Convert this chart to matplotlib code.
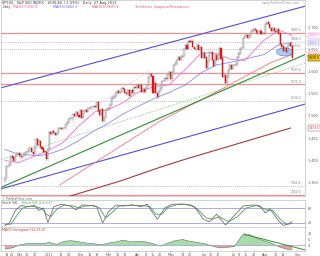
import numpy as np
import pandas as pd
import matplotlib
matplotlib.use("Agg")
import matplotlib.pyplot as plt
from matplotlib.patches import Ellipse

# daily closes, 16 Nov 2012 .. 27 Aug 2013
closes = [
    1359.88, 1386.89, 1387.81, 1391.03, 1409.15, 1406.29, 1398.94, 1409.93, 1415.95, 1416.18,
    1409.46, 1407.05, 1409.28, 1413.94, 1418.07, 1418.55, 1427.84, 1428.48, 1419.45, 1413.58,
    1430.36, 1446.79, 1435.81, 1443.69, 1430.15, 1426.66, 1419.83, 1418.10, 1402.43, 1426.19,
    1462.42, 1459.37, 1466.47, 1461.89, 1457.15, 1461.02, 1472.12, 1472.05, 1470.68, 1472.34,
    1472.63, 1480.94, 1485.98, 1492.56, 1494.81, 1494.82, 1502.96, 1500.18, 1507.84, 1501.96, 1498.11,
    1513.17, 1495.71, 1511.29, 1512.12, 1509.39, 1517.93, 1517.01, 1519.43, 1520.33, 1521.38,
    1519.79, 1530.94, 1511.95, 1502.42, 1515.60, 1487.85, 1496.94, 1515.99, 1514.68,
    1518.20, 1525.20, 1539.79, 1541.46, 1544.26, 1551.18, 1556.22, 1552.48, 1554.52, 1563.23,
    1560.70, 1552.10, 1548.34, 1558.71, 1545.80, 1556.89, 1551.69, 1563.77, 1562.85, 1569.19,
    1562.17, 1570.25, 1553.69, 1559.98, 1553.28, 1563.07, 1568.61, 1587.73, 1593.37, 1588.85,
    1552.36, 1574.57, 1552.01, 1541.61, 1555.25, 1562.50, 1578.78, 1578.79, 1585.16, 1582.24,
    1593.61, 1597.57,
    1582.70, 1597.59, 1614.42, 1617.50, 1625.96, 1632.69, 1626.67, 1633.70, 1633.77, 1650.34,
    1658.78, 1650.47, 1667.47, 1666.29, 1669.16, 1655.35, 1650.51, 1649.60, 1660.06, 1648.36,
    1654.41, 1630.74,
    1640.42, 1631.38, 1608.90, 1622.56, 1643.38, 1642.81, 1626.13, 1612.52, 1636.36, 1626.73,
    1639.04, 1651.81, 1628.93, 1588.19, 1592.43, 1573.09, 1588.03, 1603.26, 1613.20, 1606.28,
    1614.96, 1614.08, 1615.41, 1631.89, 1640.46, 1652.32, 1652.62, 1675.02, 1680.19, 1682.50,
    1676.26, 1680.91, 1689.37, 1692.09, 1695.53, 1692.39, 1685.94, 1690.25, 1691.65, 1685.33,
    1685.96, 1685.73,
    1706.87, 1709.67, 1707.14, 1697.37, 1690.91, 1697.48, 1691.42, 1689.47, 1694.16, 1685.39,
    1661.32, 1655.83, 1646.06, 1652.35, 1642.80, 1656.96, 1663.50, 1656.78, 1630.48,
]
first_open = 1353.36
holidays = ['2012-11-22', '2012-12-25', '2013-01-01', '2013-01-21', '2013-02-18',
            '2013-03-29', '2013-05-27', '2013-07-04', '2013-09-02']

# moving averages (bar index, value)
ma20_idx = [0, 9, 23, 29, 39, 50, 61, 69, 80, 89, 100, 111, 122, 133, 143, 153, 162, 175, 185, 194]
ma20_val = [1400, 1395, 1414, 1422, 1440, 1478, 1510, 1513, 1530, 1552, 1565, 1570, 1605, 1643,
            1640, 1627, 1625, 1670, 1693, 1681]
ma50_idx = ma20_idx
ma50_val = [1425, 1414, 1411, 1414, 1425, 1445, 1468, 1482, 1505, 1520, 1538, 1553, 1570, 1598,
            1615, 1621, 1628, 1638, 1660, 1665]
ma100_idx = [37, 71, 105, 145, 179, 194]
ma100_val = [1345, 1417, 1489, 1558, 1619, 1638]
slow_idx = [42, 78, 105, 122, 193]
slow_val = [1318, 1354, 1385, 1403, 1473]

# horizontal levels
red_levels = [1687.2, 1597.4, 1571.0, 1322.0]
dot_levels = [1666.3, 1650.6, 1534.0, 1343.4]

# trendlines (two anchor points each)
green_tl = [(0, 1343.4), (149, 1560.0)]
blue_upper = [(-3, 1563), (203, 1747)]
blue_lower = [(-3, 1336), (203, 1527)]
lgreen_tl = [(78, 1487), (203, 1619)]
pink_tl = [(30, 1453), (98, 1603)]

# stochastic
k_idx = [0, 3, 7, 11, 16, 20, 23, 26, 29, 33, 38, 44, 48, 52, 58, 62, 66, 70, 75, 80, 86, 92, 96,
         100, 103, 108, 113, 120, 126, 130, 134, 138, 143, 149, 155, 161, 168, 172, 176, 179, 184,
         188, 191, 194]
k_val = [10, 20, 70, 90, 85, 90, 70, 80, 22, 85, 95, 88, 72, 92, 90, 85, 20, 65, 92, 88, 93, 85, 95,
         60, 35, 80, 95, 96, 92, 70, 35, 25, 55, 12, 50, 88, 92, 90, 60, 78, 35, 10, 15, 25]
d_idx = [0, 4, 8, 12, 17, 21, 25, 28, 31, 35, 40, 46, 50, 54, 60, 64, 68, 72, 77, 82, 88, 94, 98,
         102, 106, 110, 116, 122, 128, 132, 136, 140, 145, 151, 157, 163, 170, 174, 178, 181, 186,
         190, 194]
d_val = [15, 15, 50, 80, 88, 85, 78, 55, 45, 75, 92, 88, 80, 88, 90, 80, 40, 60, 88, 90, 90, 90, 85,
         55, 55, 82, 93, 95, 85, 65, 40, 35, 45, 25, 45, 80, 90, 80, 70, 70, 35, 15, 18]

# MACD histogram
macd_idx = [0, 5, 10, 15, 20, 25, 30, 35, 40, 45, 50, 55, 60, 65, 70, 75, 80, 85, 90, 95, 100,
            105, 110, 115, 120, 125, 130, 135, 140, 145, 150, 155, 160, 165, 170, 175, 180, 185,
            190, 194]
macd_val = [-3, -2, 0.5, 1.5, 2, 1.5, 2.5, 1, 3.5, 4, 3, 2, 1.5, 0.5, 2, 3, 4.5, 3, 3.5, 3, 1.5,
            -0.5, 2, 4, 5, 3.5, 2.5, 1.5, -0.5, -2, -1.5, -1, 8, 9, 6, 4, 2, -1, -3, -3.5]
macd_tl = [(161, 9.6), (203, -3.8)]

tick_dates = ['2012-11-19', '2012-11-26', '2012-12-03', '2012-12-10', '2012-12-17', '2013-01-02',
              '2013-01-14', '2013-01-22', '2013-02-01', '2013-02-11', '2013-02-19', '2013-03-01',
              '2013-03-11', '2013-03-18', '2013-04-01', '2013-04-08', '2013-04-15', '2013-04-22',
              '2013-05-01', '2013-05-13', '2013-05-20', '2013-06-03', '2013-06-10', '2013-06-17',
              '2013-07-01', '2013-07-08', '2013-07-15', '2013-07-22', '2013-08-01', '2013-08-12',
              '2013-08-19', '2013-09-03']
tick_labels = ['19', '26', 'Dec', '10', '17', '2013', '14', '22', 'Feb', '11', '19', 'Mar', '11',
               '18', 'Apr', '8', '15', '22', 'May', '13', '20', 'Jun', '10', '17', 'Jul', '8',
               '15', '22', 'Aug', '12', '19', 'Sep']

dates = pd.bdate_range('2012-11-16', '2013-09-06', freq='C', holidays=holidays)
closes = np.array(closes)
x = np.arange(len(closes))
opens = np.concatenate([[first_open], closes[:-1]])
lo = np.minimum(opens, closes)
hi = np.maximum(opens, closes)
up = closes >= opens

fig = plt.figure(figsize=(3.2, 2.56), dpi=100)
ax = fig.add_axes([0.003, 1 - 196 / 256, 0.95, 196 / 256])
ax_s = fig.add_axes([0.003, 1 - 227 / 256, 0.95, 27 / 256])
ax_m = fig.add_axes([0.003, 1 - 251 / 256, 0.95, 24 / 256])
xlim = (-2.7, 202.7)

for a in (ax, ax_s, ax_m):
    a.set_xlim(*xlim)
    a.set_facecolor('white')
    for s in a.spines.values():
        s.set_color('#b0b0b0')
        s.set_linewidth(0.4)
    a.yaxis.tick_right()
    a.tick_params(labelsize=2.4, colors='#555555', length=1, width=0.3, pad=1)
    a.set_xticks([])

# price panel
ax.set_ylim(1320.2, 1760.7)
for lv in red_levels:
    ax.axhline(lv, color='#f29090', lw=0.9, zorder=1)
    ax.text(200, lv + 2, f'{lv:.1f}', fontsize=2.2, color='#777777', ha='right', va='bottom')
for lv in dot_levels:
    ax.axhline(lv, color='#a8a8a8', lw=0.5, ls=(0, (1.5, 1.5)), zorder=1)
    ax.text(200, lv + 2, f'{lv:.1f}', fontsize=2.2, color='#777777', ha='right', va='bottom')

ax.axline(*blue_upper, color='#4f4fe0', lw=0.8, zorder=2)
ax.axline(*blue_lower, color='#4f4fe0', lw=0.8, zorder=2)
ax.axline(*lgreen_tl, color='#9cc89c', lw=0.6, ls=(0, (2, 1.5)), zorder=2)
ax.plot([p[0] for p in pink_tl], [p[1] for p in pink_tl], color='#f4b0cc', lw=0.5,
        ls=(0, (1.5, 1.5)), zorder=2)
ax.plot(slow_idx, slow_val, color='#a83838', lw=0.8, zorder=2)
ax.plot(ma100_idx, ma100_val, color='#f07878', lw=0.6, zorder=2)
ax.axline(*green_tl, color='#2f8f2f', lw=0.8, zorder=2)
ax.plot(ma50_idx, ma50_val, color='#8a8af0', lw=0.6, zorder=3)
ax.plot(ma20_idx, ma20_val, color='#ff6ad0', lw=0.6, zorder=3)

ax.add_patch(Ellipse((189, 1644), 11, 18, facecolor='#9ec4f0', edgecolor='#4a7ad8',
                     lw=0.5, alpha=0.85, zorder=3))

ax.vlines(x, lo - 3, hi + 3, color='#8c8c8c', lw=0.3, zorder=4)
ax.bar(x[up], (hi - lo)[up] + 0.5, bottom=lo[up], width=0.75, color='#e6e6e6',
       edgecolor='#8c8c8c', lw=0.3, zorder=5)
ax.bar(x[~up], (hi - lo)[~up] + 0.5, bottom=lo[~up], width=0.75, color='#d81818',
       edgecolor='#d81818', lw=0.3, zorder=5)

ax.set_yticks([1350, 1400, 1450, 1500, 1550, 1600, 1650, 1700])
ax.set_yticklabels(['1 350', '1 400', '1 450', '1 500', '1 550', '1 600', '1 650', '1 700'])

# value boxes on the right axis
boxes = [(ma20_val[-1], 'ma20', '#ff6ad0', 'white'), (ma50_val[-1], 'ma50', '#6a6ae0', 'white'),
         (ma100_val[-1], 'ma100', '#e05050', 'white'), (closes[-1], 'last', 'black', '#f5d000'),
         (slow_val[-1], 'slow', '#a83838', 'white')]
for val, name, col, bg in boxes:
    ax.text(1.012, val, f'{val:.1f}', transform=ax.get_yaxis_transform(), fontsize=2.3,
            color=col, va='center', ha='left',
            bbox=dict(boxstyle='square,pad=0.25', fc=bg, ec=col, lw=0.3), clip_on=False)

ax.text(0.004, 0.997, 'SP500 - S&P 500 INDEX   1630.48  (-1.59%)   Daily  27 Aug 2013',
        transform=ax.transAxes, fontsize=2.5, color='#333333', va='top')
legend_parts = [('Daily', '#444444', 0.004), ('MA(20) 1680.8', '#ff4ac0', 0.04),
                ('MA(50) 1665.3', '#5a5ae0', 0.17), ('MA(100) 1637.9', '#e04040', 0.30),
                ('Trend lines  Supports/Resistances', '#e05080', 0.44)]
for txt, col, xp in legend_parts:
    ax.text(xp, 0.975, txt, transform=ax.transAxes, fontsize=2.3, color=col, va='top')
ax.text(0.985, 0.997, 'www.ProRealTime.com', transform=ax.transAxes, fontsize=2.4,
        color='#999999', va='top', ha='right')
ax.text(0.004, -0.003, '\u00a9 ProRealTime.com', transform=ax.transAxes, fontsize=2.2,
        color='#666666', va='top')

# stochastic panel
ax_s.set_ylim(4, 112)
ax_s.axhline(80, color='#a0a0e0', lw=0.6)
ax_s.axhline(20, color='#a0a0e0', lw=0.6)
ax_s.plot(d_idx, d_val, color='#4aa04a', lw=0.6)
ax_s.plot(k_idx, k_val, color='#707070', lw=0.6)
ax_s.set_yticks([20, 80])
ax_s.set_yticklabels(['20', '80'])
ax_s.text(0.004, 0.98, 'Stoch %K', transform=ax_s.transAxes, fontsize=2.3, color='#444444',
          va='top')
ax_s.text(0.07, 0.98, 'Stoch %D (14,3,3)', transform=ax_s.transAxes, fontsize=2.3,
          color='#4aa04a', va='top')

# MACD histogram panel
ax_m.set_ylim(-4.6, 15.4)
mi = np.array(macd_idx)
mv = np.array(macd_val)
ax_m.fill_between(mi, 0, mv, where=mv >= 0, interpolate=True, color='#a8dba8', lw=0)
ax_m.fill_between(mi, 0, mv, where=mv <= 0, interpolate=True, color='#e8a0a0', lw=0)
ax_m.plot(mi, mv, color='#5a7a5a', lw=0.4)
ax_m.axhline(0, color='#9a9ad8', lw=0.5)
ax_m.plot([p[0] for p in macd_tl], [p[1] for p in macd_tl], color='#2f8f2f', lw=0.7)
ax_m.set_yticks([0, 5, 10])
ax_m.text(0.004, 0.97, 'MACD histogram (12,26,9)', transform=ax_m.transAxes, fontsize=2.3,
          color='#d03030', va='top')

tick_pos = dates.get_indexer(pd.to_datetime(tick_dates))
ax_m.set_xticks(tick_pos)
ax_m.set_xticklabels(tick_labels)
ax_m.tick_params(axis='x', labelsize=2.4, length=1, pad=0.5)

fig.savefig('out.png', dpi=100)
